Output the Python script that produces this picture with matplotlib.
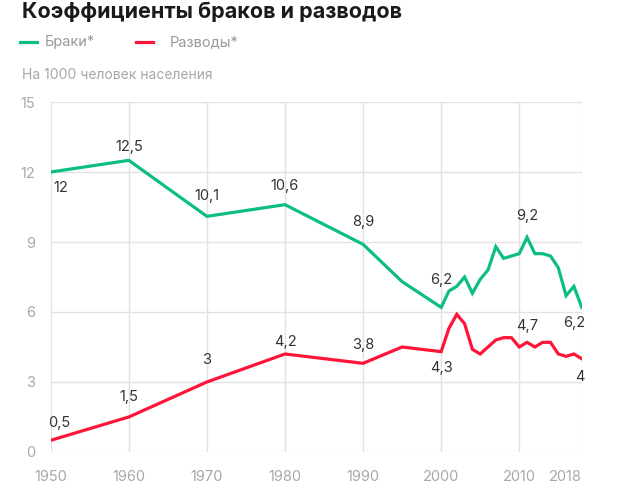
import matplotlib
matplotlib.use('Agg')
import matplotlib.pyplot as plt

plt.rcParams['font.family'] = ['Inter', 'DejaVu Sans']

# данные: коэффициенты на 1000 человек населения
gody_braki = [1950, 1960, 1970, 1980, 1990, 1995, 2000, 2001, 2002, 2003, 2004, 2005,
              2006, 2007, 2008, 2009, 2010, 2011, 2012, 2013, 2014, 2015, 2016, 2017, 2018]
braki = [12, 12.5, 10.1, 10.6, 8.9, 7.3, 6.2, 6.9, 7.1, 7.5, 6.8, 7.4,
         7.8, 8.8, 8.3, 8.4, 8.5, 9.2, 8.5, 8.5, 8.4, 7.9, 6.7, 7.1, 6.2]

gody_razvody = [1950, 1960, 1970, 1980, 1990, 1995, 2000, 2001, 2002, 2003, 2004, 2005,
                2006, 2007, 2008, 2009, 2010, 2011, 2012, 2013, 2014, 2015, 2016, 2017, 2018]
razvody = [0.5, 1.5, 3.0, 4.2, 3.8, 4.5, 4.3, 5.3, 5.9, 5.5, 4.4, 4.2,
           4.5, 4.8, 4.9, 4.9, 4.5, 4.7, 4.5, 4.7, 4.7, 4.2, 4.1, 4.2, 4.0]

ticks_x = [1950, 1960, 1970, 1980, 1990, 2000, 2010, 2018]
ticks_y = [0, 3, 6, 9, 12, 15]

# подписи: (год, значение, текст, смещение по x, смещение по y в пикселях)
podpisi_braki = [(1950, 12, '12', 10, -16), (1960, 12.5, '12,5', 0, 13),
                 (1970, 10.1, '10,1', 0, 20), (1980, 10.6, '10,6', 0, 19),
                 (1990, 8.9, '8,9', 0, 22), (2000, 6.2, '6,2', 0, 27),
                 (2011, 9.2, '9,2', 0, 21), (2018, 6.2, '6,2', -8, -16)]
podpisi_razvody = [(1950, 0.5, '0,5', 8, 17), (1960, 1.5, '1,5', 0, 20),
                   (1970, 3.0, '3', 0, 22), (1980, 4.2, '4,2', 0, 12),
                   (1990, 3.8, '3,8', 0, 18), (2000, 4.3, '4,3', 0, -16),
                   (2011, 4.7, '4,7', 0, 16), (2018, 4.0, '4', -2, -18)]

zeleny = '#0cbf7f'
krasny = '#ff1439'

fig = plt.figure(figsize=(6.17, 4.9), dpi=100)
ax = fig.add_axes([0.0822, 0.0776, 0.8606, 0.7142])

ax.plot(gody_braki, braki, color=zeleny, lw=2.3, solid_joinstyle='miter', zorder=3)
ax.plot(gody_razvody, razvody, color=krasny, lw=2.3, solid_joinstyle='miter', zorder=3)

for god, val, txt, dx, dy in podpisi_braki + podpisi_razvody:
    ax.annotate(txt, (god, val), xytext=(dx, dy), textcoords='offset pixels',
                ha='center', va='center', fontsize=10.5, color='#333333')

ax.set_xlim(1950, 2018)
ax.set_ylim(0, 15)
ax.set_xticks(ticks_x)
ax.set_xticklabels([str(t) for t in ticks_x])
ax.set_yticks(ticks_y)
ax.grid(True, color='#e2e2e2', lw=1)
ax.set_axisbelow(True)
for s in ['left', 'right', 'top', 'bottom']:
    ax.spines[s].set_visible(False)
ax.tick_params(length=0, labelsize=10.5, labelcolor='#a8a8a8')
ax.tick_params(axis='x', pad=13)
ax.tick_params(axis='y', pad=11)
ax.get_xticklabels()[-1].set_horizontalalignment('right')
ax.get_xticklabels()[-1].set_x(2018.3)

fig.text(0.035, 0.975, 'Коэффициенты браков и разводов', fontsize=15.5, fontweight='bold',
         color='#1a1a1a', va='center', ha='left')

fig.add_artist(plt.Line2D([0.033, 0.06], [0.914, 0.914], color=zeleny, lw=2.3))
fig.text(0.073, 0.914, 'Браки*', fontsize=10.5, color='#9a9a9a', va='center')
fig.add_artist(plt.Line2D([0.22, 0.248], [0.914, 0.914], color=krasny, lw=2.3))
fig.text(0.275, 0.914, 'Разводы*', fontsize=10.5, color='#9a9a9a', va='center')

fig.text(0.035, 0.847, 'На 1000 человек населения', fontsize=10, color='#a8a8a8', va='center')

fig.savefig('out.png', dpi=100)
